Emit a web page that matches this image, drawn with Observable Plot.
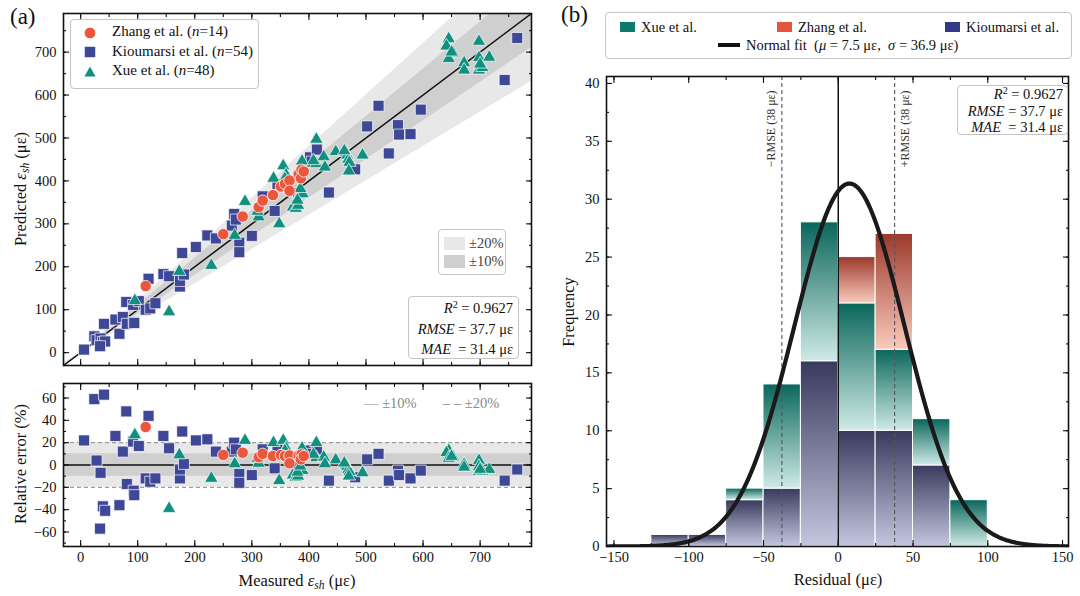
<!DOCTYPE html>
<html><head><meta charset="utf-8">
<script src="https://cdn.jsdelivr.net/npm/d3@7"></script>
<script src="https://cdn.jsdelivr.net/npm/@observablehq/plot@0.6"></script>
<style>
body{margin:0;background:#fff;font-family:"Liberation Serif","Times New Roman",serif;color:#111;}
#wrap{position:relative;width:1080px;height:596px;overflow:hidden;background:#fff;}
.t{position:absolute;white-space:nowrap;font-family:"Liberation Serif",serif;color:#111;}
.rot{transform:translate(-50%,-50%) rotate(-90deg);}
.ctr{transform:translate(-50%,-50%);}
.box{position:absolute;border:1.2px solid #c4c4c4;border-radius:4px;background:rgba(255,255,255,0.9);box-sizing:border-box;font-family:"Liberation Serif",serif;}
.row{position:absolute;white-space:nowrap;font-size:14.5px;}
sub{font-size:70%;vertical-align:-0.25em;line-height:0;}
sup{font-size:70%;vertical-align:0.45em;line-height:0;}
</style></head>
<body>
<svg width="0" height="0" style="position:absolute">
<defs>
<linearGradient id="gradK" x1="0" y1="0" x2="0" y2="1"><stop offset="0" stop-color="#373a5c"/><stop offset="1" stop-color="#c4c6df"/></linearGradient>
<linearGradient id="gradX" x1="0" y1="0" x2="0" y2="1"><stop offset="0" stop-color="#0a665b"/><stop offset="1" stop-color="#cfeae6"/></linearGradient>
<linearGradient id="gradZ" x1="0" y1="0" x2="0" y2="1"><stop offset="0" stop-color="#9c392b"/><stop offset="1" stop-color="#f9cbbd"/></linearGradient>
</defs>
</svg>
<div id="wrap"></div>
<script>
// ---------------- DATA ----------------
const zhangMeasured  = [114,250,284,312,319,337,351,358,366,366,382,387,386,391];
const zhangPredicted = [155,276,317,339,354,367,387,393,401,377,416,426,406,422];
const zhangRelError  = [34,9,11,7,10,8,9,8,8.5,1.5,8.5,9.5,5,8];

const kioumarsiMeasured  = [6,24,28,35,41,39,43,34,61,68,74,80,81,92,93,94,102,114,119,122,131,145,155,174,174,178,181,202,222,237,265,269,272,278,278,300,319,340,345,381,402,405,414,435,481,502,522,540,556,558,578,596,743,765];
const kioumarsiPredicted = [7,38,29,33,67,25,26,15,77,44,83,118,67,111,71,69,120,100,172,103,115,183,178,154,167,232,182,246,273,266,296,323,310,256,234,272,364,330,393,372,455,445,473,373,427,527,575,464,530,508,509,566,635,733];
const kioumarsiRelError  = [22,59,4,-7,63,-37,-41,-57,26,-36,12,48,-17,21,-23,-27,17,-12,44,-15,-12,26,15,-12,-4,30,1,22,23,12,12,20,14,-8,-16,-9,14,-3,14,-2,13,10,14,-14,-11,5,10,-14,-5,-9,-12,-5,-14,-4];

const xueMeasured  = [95,155,173,229,270,288,312,310,338,348,355,360,372,377,381,383,385,388,389,413,413,426,428,447,465,467,469,471,470,494,645,641,653,645,672,672,698,698,698,704,716,408,380,462,385,358,650,700];
const xuePredicted = [121,95,189,203,273,352,316,329,406,300,435,414,339,336,343,367,369,446,370,497,440,456,432,468,466,460,450,443,423,460,731,714,698,685,675,658,725,687,658,664,688,447,355,470,382,405,700,672];
const xueRelError  = [27,-39,9,-12,1,22,1.5,6,20,-14,22,15,-9,-11,-10,-4,-4,15,-5,20,6.5,7,1,4.5,0,-1.5,-4,-6,-10,-7,13,11,7,6,0.5,-2,4,-1.5,-6,-5.5,-4,9.5,-6.5,1.7,-1,13,7.7,-4];

// histogram (residual bins, width 25)
const binStarts = [-125,-100,-75,-50,-25,0,25,50,75];
const binWidth = 25;
const kioumarsiCounts = [1,1,4,5,16,10,10,7,0];
const xueCounts       = [0,0,1,9,12,11,7,4,4];
const zhangCounts     = [0,0,0,0,0,4,10,0,0];

// normal fit parameters (from the legend)
const fitMu = 7.5, fitSigma = 36.9, fitN = 116;
const rmse = 37.7;

const lineXs = [-30, 790];
const xTicksA = [0,100,200,300,400,500,600,700];
const yTicksA = [0,100,200,300,400,500,600,700];
const yTicksR = [-60,-40,-20,0,20,40,60];
const xTicksB = [-150,-100,-50,0,50,100,150];
const yTicksB = [0,5,10,15,20,25,30,35,40];

// ---------------- STYLE ----------------
const C_Z = "#ea573d", C_K = "#3f4797", C_X = "#12907f";
const FONT = '"Liberation Serif", "Times New Roman", serif';
const fmt = d => d < 0 ? "\u2212" + Math.abs(d) : String(d);
const blank = () => "";

function box(xMajor, xMinor, yMajor, yMinor, xLab, yLab) {
  const m = [];
  const st = {label: null, tickFormat: blank, strokeWidth: 1.1};
  for (const anchor of ["bottom","top"]) {
    m.push(Plot.axisX({anchor, ticks: xMajor, tickSize: -6, ...st}));
    m.push(Plot.axisX({anchor, ticks: xMinor, tickSize: -3, ...st}));
  }
  for (const anchor of ["left","right"]) {
    m.push(Plot.axisY({anchor, ticks: yMajor, tickSize: -6, ...st}));
    m.push(Plot.axisY({anchor, ticks: yMinor, tickSize: -3, ...st}));
  }
  if (xLab) m.push(Plot.axisX({anchor:"bottom", ticks: xMajor, tickSize: 0, tickPadding: 5, tickFormat: fmt, label: null}));
  else m.push(Plot.axisX({anchor:"bottom", ticks: [], tickSize: 0, label: null}));
  if (yLab) m.push(Plot.axisY({anchor:"left", ticks: yMajor, tickSize: 0, tickPadding: 7, tickFormat: fmt, label: null}));
  m.push(Plot.frame({stroke: "#111", strokeWidth: 1.6}));
  return m;
}
const style = {fontFamily: FONT, fontSize: "14.5px", color: "#111", background: "transparent", overflow: "visible"};

const rowsOf = (meas, pred, err) => meas.map((m, i) => ({m, p: pred[i], e: err[i]}));
const zRows = rowsOf(zhangMeasured, zhangPredicted, zhangRelError);
const kRows = rowsOf(kioumarsiMeasured, kioumarsiPredicted, kioumarsiRelError);
const xRows = rowsOf(xueMeasured, xuePredicted, xueRelError);

const wrap = document.getElementById("wrap");
function place(el, left, top) { el.style.position = "absolute"; el.style.left = left + "px"; el.style.top = top + "px"; wrap.appendChild(el); }

const minorA = d3.range(0, 800, 50);

// ---------------- PANEL (a) top ----------------
const pTop = Plot.plot({
  width: 545, height: 380, marginLeft: 63, marginRight: 14, marginTop: 13, marginBottom: 15,
  style,
  x: {domain: [-30, 790]}, y: {domain: [-30, 790]},
  marks: [
    Plot.areaY(lineXs, {x: d => d, y1: d => d * 0.8, y2: d => d * 1.2, fill: "#e8e8e8", clip: true}),
    Plot.areaY(lineXs, {x: d => d, y1: d => d * 0.9, y2: d => d * 1.1, fill: "#cfcfcf", clip: true}),
    Plot.line(lineXs, {x: d => d, y: d => d, stroke: "#111", strokeWidth: 1.5, clip: true}),
    Plot.dot(kRows, {x: "m", y: "p", symbol: "square", r: 6.2, fill: C_K, stroke: "white", strokeWidth: 0.7}),
    Plot.dot(xRows, {x: "m", y: "p", symbol: "triangle", r: 5, fill: C_X, stroke: "white", strokeWidth: 0.7}),
    Plot.dot(zRows, {x: "m", y: "p", r: 5.7, fill: C_Z, stroke: "white", strokeWidth: 0.8}),
    ...box(xTicksA, minorA, yTicksA, minorA, false, true)
  ]
});
place(pTop, 0, 0);

// ---------------- PANEL (a) bottom ----------------
const pBot = Plot.plot({
  width: 545, height: 226, marginLeft: 63, marginRight: 14, marginTop: 13, marginBottom: 50,
  style,
  x: {domain: [-30, 790]}, y: {domain: [-73, 73]},
  marks: [
    Plot.areaY(lineXs, {x: d => d, y1: -20, y2: 20, fill: "#e8e8e8"}),
    Plot.areaY(lineXs, {x: d => d, y1: -10, y2: 10, fill: "#cfcfcf"}),
    Plot.ruleY([-20, 20], {stroke: "#888", strokeWidth: 1, strokeDasharray: "4,3"}),
    Plot.ruleY([0], {stroke: "#111", strokeWidth: 1.6}),
    Plot.dot(kRows, {x: "m", y: "e", symbol: "square", r: 6.2, fill: C_K, stroke: "white", strokeWidth: 0.7}),
    Plot.dot(xRows, {x: "m", y: "e", symbol: "triangle", r: 5, fill: C_X, stroke: "white", strokeWidth: 0.7}),
    Plot.dot(zRows, {x: "m", y: "e", r: 5.7, fill: C_Z, stroke: "white", strokeWidth: 0.8}),
    ...box(xTicksA, minorA, yTicksR, d3.range(-70, 71, 10), true, true)
  ]
});
place(pBot, 0, 370);

// ---------------- PANEL (b) histogram ----------------
const groups = [
  {name: "Kioumarsi", counts: kioumarsiCounts, fill: "url(#gradK)"},
  {name: "Xue", counts: xueCounts, fill: "url(#gradX)"},
  {name: "Zhang", counts: zhangCounts, fill: "url(#gradZ)"}
];
const histRows = [];
for (const g of groups) binStarts.forEach((b, i) => {
  if (g.counts[i] > 0) histRows.push({x1: b, x2: b + binWidth, count: g.counts[i], group: g.name, fill: g.fill});
});
const curveXs = d3.range(-155, 155.5, 1);
const normal = x => fitN * binWidth / (fitSigma * Math.sqrt(2 * Math.PI)) * Math.exp(-0.5 * ((x - fitMu) / fitSigma) ** 2);

const pB = Plot.plot({
  width: 535, height: 596, marginLeft: 61, marginRight: 12, marginTop: 76, marginBottom: 50,
  style,
  x: {domain: [-155, 154]}, y: {domain: [0, 40.6]},
  color: {type: "identity"},
  marks: [
    Plot.rectY(histRows, {x1: "x1", x2: "x2", y: "count", z: "group", fill: "fill", stroke: "white", strokeWidth: 1}),
    Plot.ruleX([0], {stroke: "#111", strokeWidth: 1.5}),
    Plot.ruleX([-rmse, rmse], {stroke: "#555", strokeWidth: 1.1, strokeDasharray: "4,3"}),
    Plot.text(["\u2212RMSE (38 \u03bc\u03b5)"], {x: -rmse, y: 39.4, text: d => d, rotate: -90, dx: -11, textAnchor: "end", fontSize: 12, fill: "#333"}),
    Plot.text(["+RMSE (38 \u03bc\u03b5)"], {x: rmse, y: 39.4, text: d => d, rotate: -90, dx: 11, textAnchor: "end", fontSize: 12, fill: "#333"}),
    Plot.line(curveXs, {x: d => d, y: normal, stroke: "#1a1a1a", strokeWidth: 4.2, clip: true}),
    ...box(xTicksB, d3.range(-150, 151, 25), yTicksB, d3.range(0, 41, 2.5), true, true)
  ]
});
place(pB, 545, 0);

// ---------------- TEXT / LEGENDS ----------------
function html(h, left, top, cls = "t", css = "") {
  const d = document.createElement("div");
  d.className = cls; d.innerHTML = h;
  d.style.cssText += `left:${left}px;top:${top}px;` + css;
  wrap.appendChild(d); return d;
}
html("(a)", 10, 4, "t", "font-size:23px;");
html("(b)", 561, 2, "t", "font-size:23px;");
html("Predicted <i>\u03b5<sub>sh</sub></i> (\u03bc\u03b5)", 21, 189, "t rot", "font-size:16.5px;");
html("Relative error (%)", 21, 464, "t rot", "font-size:16.5px;");
html("Measured <i>\u03b5<sub>sh</sub></i> (\u03bc\u03b5)", 297, 581, "t ctr", "font-size:16.5px;");
html("Frequency", 569, 312, "t rot", "font-size:16.5px;");
html("Residual (\u03bc\u03b5)", 838, 580, "t ctr", "font-size:16.5px;");

// legend (a)
const legA = html("", 70, 19, "box", "width:189px;height:70px;");
const sym = {
  circle: `<svg width="16" height="16" style="vertical-align:middle"><circle cx="8" cy="8" r="5.8" fill="${C_Z}" stroke="white" stroke-width="0.8"/></svg>`,
  square: `<svg width="16" height="16" style="vertical-align:middle"><rect x="2.3" y="2.3" width="11.4" height="11.4" fill="${C_K}" stroke="white" stroke-width="0.7"/></svg>`,
  tri: `<svg width="16" height="16" style="vertical-align:middle"><path d="M8,2.5 L13.5,12.5 L2.5,12.5 Z" fill="${C_X}"/></svg>`
};
[["circle","Zhang et al. (<i>n</i>=14)"],["square","Kioumarsi et al. (<i>n</i>=54)"],["tri","Xue et al. (<i>n</i>=48)"]].forEach(([s, t], i) => {
  const r = document.createElement("div"); r.className = "row";
  r.style.left = "11px"; r.style.top = (3 + i * 19.5) + "px"; r.style.fontSize = "15px";
  r.innerHTML = `${sym[s]}<span style="margin-left:14px">${t}</span>`;
  legA.appendChild(r);
});

// band legend (a)
const legBand = html("", 438, 229, "box", "width:68px;height:46px;");
[["#e8e8e8","\u00b120%"],["#cfcfcf","\u00b110%"]].forEach(([c, t], i) => {
  const r = document.createElement("div"); r.className = "row";
  r.style.left = "5px"; r.style.top = (5 + i * 18) + "px"; r.style.color = "#444";
  r.innerHTML = `<span style="display:inline-block;width:21px;height:13px;background:${c};vertical-align:-2px"></span><span style="margin-left:4px">${t}</span>`;
  legBand.appendChild(r);
});

// stats boxes
const statsHTML = `<div style="text-align:right;line-height:20.5px;font-size:14.5px">` +
  `<i>R</i><sup>2</sup> = 0.9627<br><i>RMSE</i> = 37.7 \u03bc\u03b5<br><i>MAE</i> &nbsp;= 31.4 \u03bc\u03b5</div>`;
html(statsHTML, 408, 296, "box", "width:111px;height:63px;padding:1px 5px 0 0;");
html(statsHTML.replace("20.5px", "16.5px"), 957, 85, "box", "width:111px;height:50px;padding:0 4px 0 0;");

// residual legend
html("\u2014 \u00b110%", 364, 395, "t", "font-size:14.5px;color:#888;");
html("\u2013 \u2013 \u00b120%", 443, 395, "t", "font-size:14.5px;color:#888;");

// legend (b)
const legB = html("", 605, 12, "box", "width:467px;height:47px;");
const sw = c => `<span style="display:inline-block;width:15px;height:10px;background:${c};vertical-align:0px"></span>`;
[[14, "#0f7a6c", "Xue et al."], [171, "#e5533b", "Zhang et al."], [339, "#33388c", "Kioumarsi et al."]].forEach(([x, c, t]) => {
  const r = document.createElement("div"); r.className = "row";
  r.style.left = x + "px"; r.style.top = "6px";
  r.innerHTML = `${sw(c)}<span style="margin-left:6px">${t}</span>`;
  legB.appendChild(r);
});
const r2 = document.createElement("div"); r2.className = "row";
r2.style.left = "112px"; r2.style.top = "24px";
r2.innerHTML = `<span style="display:inline-block;width:22px;height:4px;background:#111;vertical-align:3px"></span><span style="margin-left:6px">Normal fit&nbsp; (<i>\u03bc</i> = 7.5 \u03bc\u03b5,&nbsp; <i>\u03c3</i> = 36.9 \u03bc\u03b5)</span>`;
legB.appendChild(r2);
</script>
</body></html>
